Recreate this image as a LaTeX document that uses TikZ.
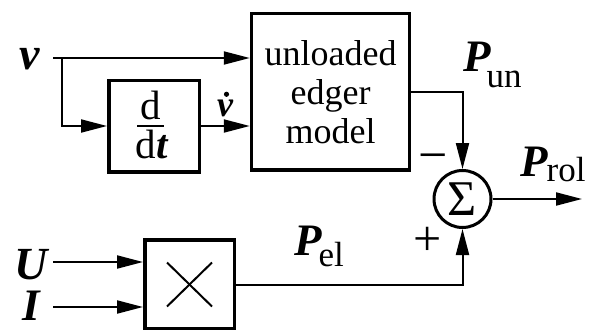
\documentclass[tikz,border=0pt]{standalone}
\usepackage{fontspec}
\setmainfont{Liberation Serif}
\usetikzlibrary{arrows.meta,calc}
\newcommand\bisym[2]{{\fontsize{#1}{#1}\selectfont\bfseries\itshape #2}}
\newcommand\rmsz[2]{{\fontsize{#1}{#1}\selectfont #2}}
\begin{document}
\begin{tikzpicture}[x=1pt,y=-1pt,
  blk/.style={draw, line width=3.5pt, inner sep=0pt},
  sig/.style={-{Triangle[length=26pt,width=13pt]}, line width=2pt},
  lbl/.style={inner sep=0pt, anchor=base},
  lblw/.style={inner sep=0pt, anchor=base west},
]
\useasboundingbox (0,0) rectangle (591,329);
% blocks
\node[blk, minimum width=158pt, minimum height=156.5pt, align=center,
      font=\fontsize{36}{39}\selectfont] (unl) at (330.5,91.75) {unloaded\\edger\\model};
\node[blk, minimum width=90.5pt, minimum height=91.5pt] (ddt) at (154,126) {};
\node[blk, minimum width=89.5pt, minimum height=89pt] (mult) at (189.5,284.5) {};
\node[draw, circle, line width=3pt, minimum size=57pt, inner sep=0pt,
      font=\fontsize{50}{50}\selectfont] (sum) at (462.5,199) {Σ};
% d/dt content
\node[lbl, font=\fontsize{41}{41}\selectfont] (dnum) at (150.5,119) {d};
\node[lbl, font=\fontsize{41}{41}\selectfont] (dden) at (151.5,158) {d\bisym{41}{t}};
\draw[line width=2pt] (137,125.5) -- (164,125.5);
% multiplier cross
\draw[line width=2pt] ($(mult.center)+(-22.5,-22)$) -- ($(mult.center)+(22.5,22)$);
\draw[line width=2pt] ($(mult.center)+(-22.5,22)$) -- ($(mult.center)+(22.5,-22)$);
% labels
\node[lbl] (lv) at (30,70) {\bisym{46}{v}};
\node[lbl] (lU) at (31,279.5) {\bisym{46}{U}};
\node[lbl] (lI) at (31,320.5) {\bisym{45}{I}};
\node[lbl] (lvd) at (225,116) {\bisym{36}{v}};
\fill ($(lvd.north)+(1.5,-5)$) circle (2.6pt);
\node[lblw] (lPun) at (463,71) {\bisym{45}{P}\kern-4pt\raisebox{-16pt}{\rmsz{35}{un}}};
\node[lblw] (lProl) at (520,176) {\bisym{45}{P}\kern-1pt\raisebox{-5pt}{\rmsz{35}{rol}}};
\node[lblw] (lPel) at (294,255) {\bisym{45}{P}\kern-3pt\raisebox{-11pt}{\rmsz{35}{el}}};
\node[inner sep=0pt, font=\fontsize{52}{52}\selectfont] (lminus) at (433.5,163) {−};
\node[inner sep=0pt, font=\fontsize{50}{50}\selectfont] (lplus) at (427.5,241) {+};
% connectors
\coordinate (vin) at (53,58);
\coordinate (br) at (62,58);
\coordinate (Uin) at (53,262);
\coordinate (Iin) at (53,307);
\coordinate (out) at (582,199);
\draw[sig] (vin) -- (unl.west |- vin);
\draw[sig] (br) |- (ddt.west);
\draw[sig] (ddt.east) -- (unl.west |- ddt.east);
\draw[sig] (unl.east) -| (sum.north);
\draw[sig] (mult.east) -| (sum.south);
\draw[sig] (sum.east) -- (out);
\draw[sig] (Uin) -- (mult.west |- Uin);
\draw[sig] (Iin) -- (mult.west |- Iin);
\end{tikzpicture}
\end{document}
